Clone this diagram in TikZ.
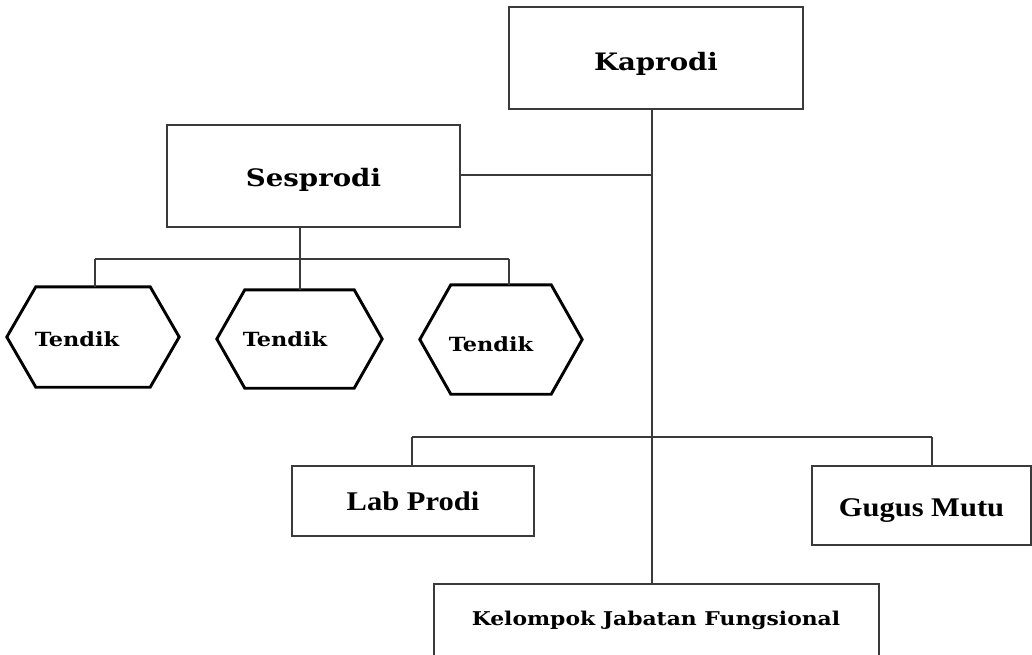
\documentclass[tikz,border=0pt]{standalone}
\usepackage{fontspec}
\newfontfamily\slabfont{Liberation Serif Bold}[FakeStretch=1.13]
\newfontfamily\bkfont{DejaVu Serif Bold}[FakeStretch=1.15]
\usetikzlibrary{calc}
\definecolor{edge}{HTML}{3A3A3A}
\tikzset{
  unitbox/.style={draw=edge, line width=1.6pt, rectangle, inner sep=0pt},
  link/.style={draw=edge, line width=1.5pt},
  hexline/.style={draw=black, line width=2.9pt, line join=miter},
  hexcore/.style={rectangle, inner sep=0pt},
  headtext/.style={font=\bkfont\fontsize{24}{26}\selectfont},
  tendiktext/.style={font=\bkfont\fontsize{19.5}{21}\selectfont},
  kjftext/.style={font=\bkfont\fontsize{19}{21}\selectfont},
  sidetext/.style={font=\slabfont\fontsize{27}{29}\selectfont},
}
% flat-topped hexagon around a rectangular core node
\newcommand\hexaround[2]{%
  \draw[hexline] (#1.north west) -- (#1.north east) -- ([xshift=#2]#1.east)
    -- (#1.south east) -- (#1.south west) -- ([xshift=-#2]#1.west) -- cycle;}
\begin{document}
\begin{tikzpicture}[x=1pt, y=-1pt]
\useasboundingbox (0,0) rectangle (1032,655);
\clip (0,0) rectangle (1032,655);

% boxes
\node[unitbox, minimum width=294, minimum height=102, headtext,
      text height=25pt, text depth=0pt] (kap) at (656,58) {Kaprodi};
\node[unitbox, minimum width=293, minimum height=102, headtext,
      text height=21pt, text depth=0pt] (ses) at (313.5,176) {Sesprodi};
\node[unitbox, minimum width=242, minimum height=70, sidetext] (lab) at (413,501) {Lab Prodi};
\node[unitbox, minimum width=219, minimum height=79, sidetext,
      text height=22pt, text depth=0pt] (gug) at (921.5,505.5) {Gugus Mutu};
\node[unitbox, minimum width=445, minimum height=130, anchor=north] (kel) at (656.5,583) {};
\node[kjftext] (kelt) at (656,620) {Kelompok Jabatan Fungsional};

% hexagons
\node[hexcore, minimum width=114, minimum height=100] (h1) at (93,337) {};
\node[hexcore, minimum width=109, minimum height=98] (h2) at (299.5,339) {};
\node[hexcore, minimum width=100, minimum height=109] (h3) at (501,339.5) {};
\hexaround{h1}{29}
\hexaround{h2}{28}
\hexaround{h3}{31}
\node[tendiktext] (t1) at (77,339) {Tendik};
\node[tendiktext] (t2) at (285,339) {Tendik};
\node[tendiktext] (t3) at (491,344) {Tendik};

% junctions
\coordinate (ja) at (652,175);
\coordinate (jb) at (652,437);
\coordinate (jc) at (300,259);
\coordinate (jl) at (95,259);
\coordinate (jr) at (509,259);
\coordinate (kl) at (412,437);
\coordinate (kr) at (932,437);

% connectors
\draw[link] (kap.south -| ja) -- (kel.north -| ja);
\draw[link] (ses.east |- ja) -- (ja);
\draw[link] (ses.south -| jc) -- (jc);
\draw[link] (jl) -- (jr);
\draw[link] (jl) -- (h1.north -| jl);
\draw[link] (jc) -- (h2.north -| jc);
\draw[link] (jr) -- (h3.north -| jr);
\draw[link] (kl) -- (kr);
\draw[link] (kl) -- (lab.north -| kl);
\draw[link] (kr) -- (gug.north -| kr);
\end{tikzpicture}
\end{document}
